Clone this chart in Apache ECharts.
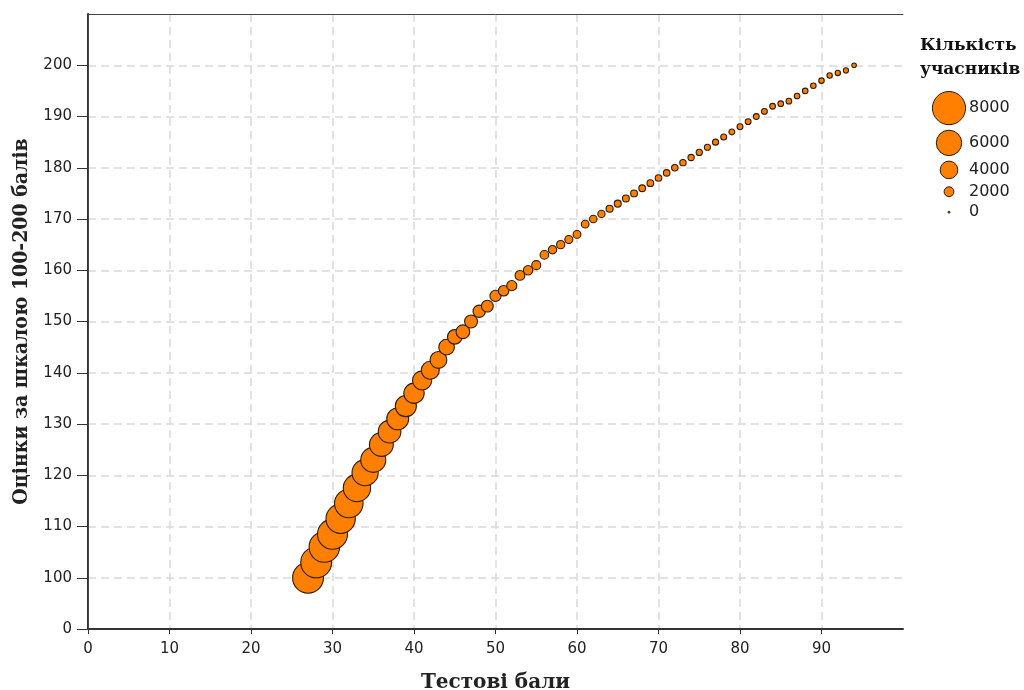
<!DOCTYPE html>
<html>
<head>
<meta charset="utf-8">
<script src="https://cdn.jsdelivr.net/npm/echarts@6/dist/echarts.min.js"></script>
<style>html,body{margin:0;padding:0;background:#fff}#c{width:1024px;height:690px}</style>
</head>
<body>
<div id="c"></div>
<script>
// Test scores (x), scaled 100-200 marks (y), number of participants (bubble size)
const testScores = [27,28,29,30,31,32,33,34,35,36,37,38,39,40,41,42,43,44,45,46,47,48,49,50,51,52,53,54,55,56,57,58,59,60,61,62,63,64,65,66,67,68,69,70,71,72,73,74,75,76,77,78,79,80,81,82,83,84,85,86,87,88,89,90,91,92,93,94];
const scaledScores = [100,103,106,108.5,111.5,114.5,117.5,120.5,123,126,128.5,131,133.5,136,138.5,140.5,142.5,145,147,148,150,152,153,155,156,157,159,160,161,163,164,165,166,167,169,170,171,172,173,174,175,176,177,178,179,180,181,182,183,184,185,186,187,188,189,190,191,192,192.5,193,194,195,196,197,198,198.5,199,200];
const participants = [7400,7400,7300,7200,7000,6800,6500,6200,5900,5600,5300,5100,4900,4700,4400,4100,3800,3500,3200,3000,2800,2650,2500,2350,2200,2100,2000,1900,1800,1700,1650,1600,1550,1500,1450,1400,1350,1300,1280,1260,1240,1220,1200,1180,1160,1140,1120,1100,1080,1060,1040,1020,1000,990,980,970,960,950,940,930,920,910,900,880,860,840,800,650];
const legendValues = [8000,6000,4000,2000,0];
const xTickValues = [0,10,20,30,40,50,60,70,80,90];
const yTickValues = [90,100,110,120,130,140,150,160,170,180,190,200];
const xTitle = 'Тестові бали';
const yTitle = 'Оцінки за шкалою 100-200 балів';
const legendTitle = 'Кількість\nучасників';

const sizeOf = v => 2 + v * 0.0039;
const FILL = '#FF8000', EDGE = '#2e1c0c';

const data = testScores.map((s, i) => [s, scaledScores[i], participants[i]]);

// size legend layout (computed from the values)
const graphics = [{
  type: 'text', left: 920, top: 34,
  style: { text: legendTitle, font: 'bold 17px "DejaVu Serif"', fill: '#111', lineHeight: 24, textAlign: 'left' }
}];
let cursor = 91;
legendValues.forEach(v => {
  const d = sizeOf(v);
  const h = Math.max(d + 1, 16);
  const cy = cursor + h / 2;
  graphics.push({ type: 'circle', shape: { cx: 949, cy: cy, r: d / 2 }, style: { fill: FILL, stroke: EDGE, lineWidth: 1 } });
  graphics.push({ type: 'text', x: 969, y: cy, style: { text: String(v), font: '16px "DejaVu Sans"', fill: '#222', verticalAlign: 'middle', textAlign: 'left' } });
  cursor += h + 4.5;
});

const gridSplit = { show: true, lineStyle: { type: [8, 5], color: '#d9d9d9', width: 1.5 } };
const frameAxis = { show: true, lineStyle: { color: '#444', width: 1 } };

const chart = echarts.init(document.getElementById('c'));
chart.setOption({
  animation: false,
  backgroundColor: '#fff',
  grid: { left: 88, right: 121, top: 14, bottom: 61, show: false, containLabel: false, outerBoundsMode: 'none' },
  xAxis: [{
    type: 'value', min: 0, max: 100, interval: 10,
    name: xTitle, nameLocation: 'middle', nameGap: 44,
    nameTextStyle: { fontFamily: 'DejaVu Serif', fontWeight: 'bold', fontSize: 20, color: '#222' },
    axisLine: { lineStyle: { color: '#333', width: 2 } },
    axisTick: { show: true, length: 5, customValues: xTickValues, lineStyle: { color: '#333', width: 1 } },
    axisLabel: { formatter: v => v === 100 ? '' : String(v), fontFamily: 'DejaVu Sans', fontSize: 15, color: '#222', margin: 13 },
    splitLine: gridSplit, z: 1
  }, {
    type: 'value', min: 0, max: 100, position: 'top',
    axisLine: frameAxis, axisTick: { show: false }, axisLabel: { show: false }, splitLine: { show: false }, z: 3
  }],
  yAxis: [{
    type: 'value', min: 90, max: 210, interval: 10,
    name: yTitle, nameLocation: 'middle', nameGap: 53,
    nameTextStyle: { fontFamily: 'DejaVu Serif Condensed', fontWeight: 'bold', fontSize: 21, color: '#222' },
    axisLine: { show: true, lineStyle: { color: '#333', width: 2 } },
    axisTick: { show: true, length: 11, customValues: yTickValues, lineStyle: { color: '#333', width: 1 } },
    axisLabel: { formatter: v => v === 90 ? '0' : (v === 210 ? '' : String(v)), fontFamily: 'DejaVu Sans', fontSize: 15, color: '#222', margin: 16 },
    splitLine: gridSplit, z: 1
  }, {
    type: 'value', min: 90, max: 210, position: 'right',
    axisLine: frameAxis, axisTick: { show: false }, axisLabel: { show: false }, splitLine: { show: false }, z: 3
  }],
  series: [{
    type: 'scatter',
    xAxisIndex: 0, yAxisIndex: 0,
    data: data,
    symbolSize: d => sizeOf(d[2]),
    itemStyle: { color: FILL, borderColor: EDGE, borderWidth: 1.1, opacity: 1 },
    z: 5
  }],
  graphic: graphics
});
</script>
</body>
</html>
